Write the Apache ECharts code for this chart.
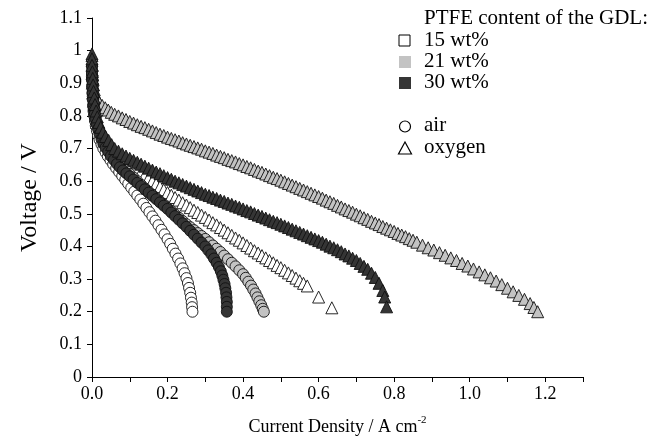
<!DOCTYPE html>
<html>
<head>
<meta charset="utf-8">
<script src="https://cdn.jsdelivr.net/npm/echarts@6/dist/echarts.min.js"></script>
<style>html,body{margin:0;padding:0;background:#fff}#c{width:661px;height:441px}</style>
</head>
<body>
<div id="c"></div>
<script>
// Current density (A cm^-2), voltage (V) pairs
var air15 = [[0,0.93],[0,0.91],[0.001,0.89],[0.001,0.87],[0.002,0.85],[0.003,0.83],[0.004,0.815],[0.006,0.80],[0.008,0.785],[0.01,0.77],[0.013,0.755],[0.016,0.74],[0.02,0.727],[0.025,0.713],[0.03,0.70],[0.036,0.688],[0.042,0.676],[0.049,0.664],[0.056,0.652],[0.064,0.64],[0.072,0.628],[0.08,0.616],[0.088,0.604],[0.096,0.592],[0.104,0.58],[0.112,0.568],[0.12,0.556],[0.128,0.544],[0.136,0.531],[0.144,0.518],[0.152,0.505],[0.16,0.492],[0.168,0.479],[0.176,0.465],[0.184,0.451],[0.192,0.437],[0.2,0.422],[0.207,0.408],[0.214,0.393],[0.221,0.378],[0.228,0.363],[0.234,0.348],[0.24,0.333],[0.245,0.318],[0.25,0.303],[0.254,0.288],[0.257,0.273],[0.26,0.258],[0.262,0.243],[0.264,0.228],[0.265,0.214],[0.266,0.2]];
var air21 = [[0,0.92],[0.001,0.89],[0.002,0.86],[0.004,0.835],[0.006,0.815],[0.009,0.795],[0.013,0.775],[0.018,0.758],[0.024,0.742],[0.03,0.727],[0.037,0.712],[0.045,0.697],[0.053,0.683],[0.062,0.67],[0.071,0.658],[0.08,0.646],[0.09,0.634],[0.1,0.622],[0.11,0.611],[0.12,0.6],[0.13,0.589],[0.14,0.578],[0.15,0.568],[0.16,0.558],[0.17,0.548],[0.18,0.538],[0.19,0.528],[0.2,0.518],[0.21,0.508],[0.22,0.498],[0.23,0.488],[0.24,0.478],[0.25,0.468],[0.26,0.459],[0.27,0.45],[0.28,0.441],[0.29,0.432],[0.3,0.423],[0.31,0.413],[0.32,0.403],[0.33,0.393],[0.34,0.383],[0.35,0.372],[0.36,0.361],[0.37,0.35],[0.38,0.339],[0.39,0.327],[0.4,0.315],[0.407,0.304],[0.414,0.292],[0.421,0.28],[0.427,0.268],[0.433,0.256],[0.438,0.244],[0.443,0.232],[0.448,0.22],[0.452,0.209],[0.455,0.2]];
var air30 = [[0,0.95],[0,0.93],[0.001,0.91],[0.001,0.89],[0.002,0.87],[0.003,0.85],[0.004,0.835],[0.005,0.82],[0.007,0.805],[0.009,0.79],[0.012,0.775],[0.016,0.76],[0.02,0.745],[0.025,0.73],[0.03,0.715],[0.036,0.703],[0.043,0.69],[0.05,0.677],[0.058,0.665],[0.066,0.653],[0.074,0.643],[0.082,0.633],[0.091,0.624],[0.1,0.615],[0.11,0.605],[0.12,0.595],[0.13,0.585],[0.14,0.575],[0.15,0.565],[0.16,0.555],[0.17,0.545],[0.18,0.535],[0.19,0.525],[0.2,0.515],[0.21,0.504],[0.22,0.493],[0.23,0.482],[0.24,0.471],[0.25,0.46],[0.26,0.448],[0.27,0.436],[0.28,0.424],[0.29,0.412],[0.3,0.40],[0.308,0.388],[0.316,0.376],[0.323,0.363],[0.33,0.35],[0.336,0.337],[0.341,0.324],[0.345,0.311],[0.348,0.298],[0.351,0.285],[0.353,0.272],[0.355,0.258],[0.356,0.244],[0.357,0.23],[0.357,0.215],[0.357,0.2]];
var oxy15 = [[0,0.93],[0.001,0.9],[0.002,0.87],[0.004,0.845],[0.006,0.82],[0.009,0.8],[0.012,0.78],[0.016,0.765],[0.02,0.75],[0.025,0.737],[0.03,0.725],[0.037,0.712],[0.045,0.70],[0.052,0.692],[0.06,0.685],[0.07,0.678],[0.08,0.670],[0.09,0.663],[0.10,0.655],[0.11,0.646],[0.12,0.637],[0.13,0.628],[0.14,0.619],[0.15,0.610],[0.16,0.601],[0.17,0.592],[0.18,0.583],[0.19,0.574],[0.20,0.565],[0.21,0.557],[0.22,0.550],[0.23,0.542],[0.24,0.534],[0.25,0.527],[0.26,0.519],[0.27,0.511],[0.28,0.504],[0.29,0.496],[0.30,0.489],[0.31,0.481],[0.32,0.473],[0.33,0.466],[0.34,0.458],[0.35,0.450],[0.36,0.442],[0.37,0.434],[0.38,0.426],[0.39,0.419],[0.40,0.411],[0.41,0.403],[0.42,0.395],[0.43,0.387],[0.44,0.380],[0.45,0.372],[0.46,0.365],[0.47,0.357],[0.48,0.350],[0.49,0.342],[0.50,0.335],[0.51,0.327],[0.52,0.319],[0.53,0.311],[0.54,0.303],[0.55,0.295],[0.56,0.287],[0.57,0.279],[0.60,0.245],[0.635,0.212]];
var oxy21 = [[0,0.985],[0,0.97],[0.001,0.955],[0.001,0.94],[0.002,0.925],[0.003,0.91],[0.004,0.895],[0.006,0.88],[0.008,0.868],[0.011,0.857],[0.015,0.848],[0.02,0.84],[0.027,0.832],[0.035,0.825],[0.043,0.818],[0.051,0.811],[0.06,0.805],[0.07,0.800],[0.08,0.794],[0.09,0.789],[0.10,0.783],[0.11,0.778],[0.12,0.773],[0.13,0.768],[0.14,0.764],[0.15,0.759],[0.16,0.754],[0.17,0.749],[0.18,0.744],[0.19,0.740],[0.20,0.735],[0.21,0.731],[0.22,0.727],[0.23,0.723],[0.24,0.718],[0.25,0.714],[0.26,0.710],[0.27,0.706],[0.28,0.702],[0.29,0.698],[0.30,0.693],[0.31,0.689],[0.32,0.685],[0.33,0.680],[0.34,0.676],[0.35,0.672],[0.36,0.667],[0.37,0.663],[0.38,0.659],[0.39,0.654],[0.40,0.650],[0.41,0.645],[0.42,0.641],[0.43,0.636],[0.44,0.631],[0.45,0.627],[0.46,0.622],[0.47,0.617],[0.48,0.612],[0.49,0.608],[0.50,0.603],[0.51,0.598],[0.52,0.593],[0.53,0.588],[0.54,0.583],[0.55,0.578],[0.56,0.573],[0.57,0.568],[0.58,0.563],[0.59,0.558],[0.60,0.553],[0.61,0.548],[0.62,0.542],[0.63,0.537],[0.64,0.532],[0.65,0.526],[0.66,0.521],[0.67,0.515],[0.68,0.510],[0.69,0.505],[0.70,0.499],[0.71,0.494],[0.72,0.488],[0.73,0.483],[0.74,0.477],[0.75,0.472],[0.76,0.467],[0.77,0.461],[0.78,0.456],[0.79,0.451],[0.80,0.446],[0.81,0.440],[0.82,0.435],[0.83,0.430],[0.84,0.424],[0.85,0.419],[0.86,0.413],[0.875,0.404],[0.89,0.396],[0.905,0.389],[0.92,0.381],[0.935,0.373],[0.95,0.365],[0.965,0.357],[0.98,0.348],[0.995,0.340],[1.01,0.331],[1.025,0.322],[1.04,0.313],[1.055,0.304],[1.07,0.294],[1.085,0.283],[1.10,0.272],[1.115,0.261],[1.13,0.250],[1.145,0.238],[1.16,0.225],[1.17,0.213],[1.18,0.200]];
var oxy30 = [[0,0.99],[0,0.975],[0,0.955],[0.001,0.935],[0.002,0.915],[0.003,0.895],[0.004,0.875],[0.006,0.855],[0.008,0.835],[0.011,0.815],[0.014,0.797],[0.018,0.78],[0.023,0.765],[0.029,0.75],[0.036,0.737],[0.044,0.725],[0.052,0.712],[0.06,0.700],[0.07,0.692],[0.08,0.684],[0.09,0.677],[0.10,0.670],[0.11,0.664],[0.12,0.658],[0.13,0.652],[0.14,0.646],[0.15,0.640],[0.16,0.634],[0.17,0.628],[0.18,0.623],[0.19,0.617],[0.20,0.611],[0.21,0.606],[0.22,0.600],[0.23,0.595],[0.24,0.590],[0.25,0.585],[0.26,0.580],[0.27,0.575],[0.28,0.570],[0.29,0.565],[0.30,0.560],[0.31,0.556],[0.32,0.551],[0.33,0.547],[0.34,0.542],[0.35,0.538],[0.36,0.533],[0.37,0.529],[0.38,0.524],[0.39,0.520],[0.40,0.515],[0.41,0.510],[0.42,0.506],[0.43,0.501],[0.44,0.496],[0.45,0.492],[0.46,0.487],[0.47,0.482],[0.48,0.477],[0.49,0.473],[0.50,0.468],[0.51,0.463],[0.52,0.458],[0.53,0.453],[0.54,0.448],[0.55,0.443],[0.56,0.438],[0.57,0.433],[0.58,0.428],[0.59,0.423],[0.60,0.418],[0.61,0.413],[0.62,0.407],[0.63,0.401],[0.64,0.396],[0.65,0.390],[0.66,0.384],[0.67,0.377],[0.68,0.371],[0.69,0.364],[0.70,0.357],[0.71,0.348],[0.72,0.339],[0.73,0.330],[0.74,0.318],[0.75,0.305],[0.76,0.287],[0.77,0.265],[0.775,0.245],[0.78,0.215]];

var legendTitle = 'PTFE content of the GDL:';
var contentLabels = ['15 wt%', '21 wt%', '30 wt%'];
var gasLabels = ['air', 'oxygen'];
var xTitle = 'Current Density / A cm';
var yTitle = 'Voltage / V';

var FONT = '"Liberation Serif", "Times New Roman", serif';
var WHITE = '#ffffff', GRAY = '#c3c3c3', DARK = '#353535', EDGE = '#111111';
var TRI = 'path://M50,0 L100,100 L0,100 Z';

function sc(name, data, symbol, fill, size) {
  return {
    name: name, type: 'scatter', data: data, symbol: symbol, symbolSize: size,
    itemStyle: { color: fill, borderColor: EDGE, borderWidth: 0.9, opacity: 1 },
    emphasis: { disabled: true }, animation: false
  };
}

var chart = echarts.init(document.getElementById('c'), null, { renderer: 'canvas' });
chart.setOption({
  backgroundColor: '#ffffff',
  animation: false,
  grid: { left: 92, right: 78, top: 18, bottom: 63, containLabel: false },
  xAxis: {
    type: 'value', min: 0, max: 1.3, interval: 0.1,
    axisLine: { show: true, onZero: false, lineStyle: { color: '#000', width: 1 } },
    axisTick: { show: true, inside: false, length: 5, lineStyle: { color: '#000' } },
    splitLine: { show: false },
    axisLabel: {
      color: '#000', fontFamily: FONT, fontSize: 18, margin: 8,
      formatter: function (v) { var k = Math.round(v * 10); return (k % 2 === 0) ? (k / 10).toFixed(1) : ''; }
    },
    name: '{a|' + xTitle + '}{s|-2}', nameLocation: 'middle', nameGap: 38,
    nameTextStyle: {
      rich: {
        a: { fontFamily: FONT, fontSize: 18, color: '#000', verticalAlign: 'bottom' },
        s: { fontFamily: FONT, fontSize: 11, color: '#000', verticalAlign: 'top', padding: [0, 0, 10, 0] }
      }
    }
  },
  yAxis: {
    type: 'value', min: 0, max: 1.1, interval: 0.1,
    axisLine: { show: true, onZero: false, lineStyle: { color: '#000', width: 1 } },
    axisTick: { show: true, inside: false, length: 5, lineStyle: { color: '#000' } },
    splitLine: { show: false },
    axisLabel: {
      color: '#000', fontFamily: FONT, fontSize: 18, margin: 10,
      formatter: function (v) { return String(Math.round(v * 10) / 10); }
    },
    name: yTitle, nameLocation: 'middle', nameGap: 50, nameRotate: 90,
    nameTextStyle: { fontFamily: FONT, fontSize: 24, color: '#000' }
  },
  series: [
    sc('21 wt% oxygen', oxy21, TRI, GRAY, 12),
    sc('15 wt% oxygen', oxy15, TRI, WHITE, 12),
    sc('15 wt% air', air15, 'circle', WHITE, 11),
    sc('21 wt% air', air21, 'circle', GRAY, 11),
    sc('30 wt% air', air30, 'circle', DARK, 11),
    sc('30 wt% oxygen', oxy30, TRI, DARK, 12)
  ],
  graphic: [
    { type: 'text', left: 424, top: 8, style: { text: legendTitle, font: '21px ' + FONT, fill: '#000' } },
    { type: 'rect', shape: { x: 399, y: 35, width: 11, height: 11 }, style: { fill: WHITE, stroke: '#000', lineWidth: 1 } },
    { type: 'text', left: 424, top: 30, style: { text: contentLabels[0], font: '21px ' + FONT, fill: '#000' } },
    { type: 'rect', shape: { x: 399, y: 56, width: 12, height: 12 }, style: { fill: GRAY, stroke: null } },
    { type: 'text', left: 424, top: 51, style: { text: contentLabels[1], font: '21px ' + FONT, fill: '#000' } },
    { type: 'rect', shape: { x: 399, y: 77, width: 12, height: 12 }, style: { fill: DARK, stroke: null } },
    { type: 'text', left: 424, top: 72, style: { text: contentLabels[2], font: '21px ' + FONT, fill: '#000' } },
    { type: 'circle', shape: { cx: 405, cy: 126.5, r: 5.5 }, style: { fill: 'none', stroke: '#000', lineWidth: 1.2 } },
    { type: 'text', left: 424, top: 115, style: { text: gasLabels[0], font: '21px ' + FONT, fill: '#000' } },
    { type: 'polygon', shape: { points: [[405, 142], [411.5, 154], [398.5, 154]] }, style: { fill: 'none', stroke: '#000', lineWidth: 1.2 } },
    { type: 'text', left: 424, top: 137, style: { text: gasLabels[1], font: '21px ' + FONT, fill: '#000' } }
  ]
});
</script>
</body>
</html>
